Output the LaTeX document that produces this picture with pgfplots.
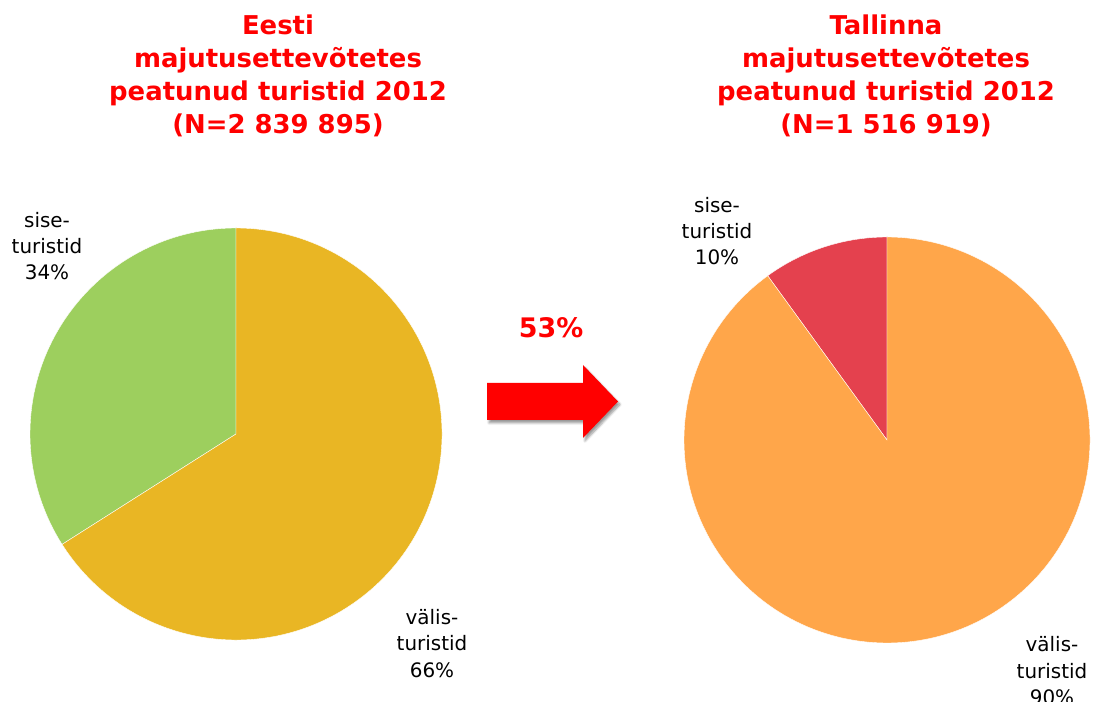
\documentclass[border=0pt]{standalone}
\usepackage{fontspec}
\setmainfont{DejaVu Sans}
\usepackage{pgfplots}
\pgfplotsset{compat=1.18}
\usepackage{pgfplotstable}
\usetikzlibrary{shadows.blur}

\definecolor{titlered}{HTML}{FF0000}
\definecolor{sisegreen}{HTML}{9DCF5E}
\definecolor{valisgold}{HTML}{E9B624}
\definecolor{sisered}{HTML}{E4414E}
\definecolor{valisorange}{HTML}{FFA64A}

\pgfplotstableread{
slice value
sise 34
valis 66
}\eesti
\pgfplotstableread{
slice value
sise 10
valis 90
}\tallinn

\begin{document}
\begin{tikzpicture}
\pgfplotstablegetelem{0}{value}\of\eesti
\pgfmathsetmacro\eAng{90+3.6*\pgfplotsretval}
\pgfplotstablegetelem{0}{value}\of\tallinn
\pgfmathsetmacro\tAng{90+3.6*\pgfplotsretval}
\begin{axis}[
  scale only axis, width=1093bp, height=702bp,
  xmin=0, xmax=1093, ymin=0, ymax=702,
  enlargelimits=false, hide axis, clip=false,
]
% Eesti pie
\fill[sisegreen, draw=white, line width=0.4bp] (axis cs:236,268) -- ++(90:206bp) arc[start angle=90, end angle=\eAng, radius=206bp] -- cycle;
\fill[valisgold, draw=white, line width=0.4bp] (axis cs:236,268) -- ++(\eAng:206bp) arc[start angle=\eAng, end angle=450, radius=206bp] -- cycle;
% Tallinn pie
\fill[sisered, draw=white, line width=0.4bp] (axis cs:887,262) -- ++(90:203bp) arc[start angle=90, end angle=\tAng, radius=203bp] -- cycle;
\fill[valisorange, draw=white, line width=0.4bp] (axis cs:887,262) -- ++(\tAng:203bp) arc[start angle=\tAng, end angle=450, radius=203bp] -- cycle;
% arrow
\fill[titlered, blur shadow={shadow xshift=2bp, shadow yshift=-3bp, shadow blur steps=6, shadow opacity=40}]
  (axis cs:487,319) -- (axis cs:583,319) -- (axis cs:583,337) -- (axis cs:618,300.5)
  -- (axis cs:583,264) -- (axis cs:583,282) -- (axis cs:487,282) -- cycle;
\node[anchor=base, text=titlered, font=\fontsize{27}{30}\selectfont\bfseries, inner sep=0pt] at (axis cs:551,364) {53\%};
% titles
\begin{scope}[every node/.style={anchor=base, text=titlered, font=\fontsize{26}{33}\selectfont\bfseries, inner sep=0pt}]
\node at (axis cs:278,667) {Eesti};
\node at (axis cs:278,634) {majutusettevõtetes};
\node at (axis cs:278,601) {peatunud turistid 2012};
\node at (axis cs:278,568) {(N=2 839 895)};
\node at (axis cs:886,667) {Tallinna};
\node at (axis cs:886,634) {majutusettevõtetes};
\node at (axis cs:886,601) {peatunud turistid 2012};
\node at (axis cs:886,568) {(N=1 516 919)};
\end{scope}
% labels
\begin{scope}[every node/.style={anchor=base, text=black, font=\fontsize{20}{26}\selectfont, inner sep=0pt}]
\node at (axis cs:47,474) {sise-};
\node at (axis cs:47,448) {turistid};
\node at (axis cs:47,422) {34\%};
\node at (axis cs:432,77) {välis-};
\node at (axis cs:432,51) {turistid};
\node at (axis cs:432,25) {66\%};
\node at (axis cs:717,489) {sise-};
\node at (axis cs:717,463) {turistid};
\node at (axis cs:717,437) {10\%};
\node at (axis cs:1052,50) {välis-};
\node at (axis cs:1052,24) {turistid};
\node at (axis cs:1052,-2) {90\%};
\end{scope}
\end{axis}
\pgfresetboundingbox
\path[use as bounding box] (0,0) rectangle (1093bp,702bp);
\end{tikzpicture}
\end{document}
